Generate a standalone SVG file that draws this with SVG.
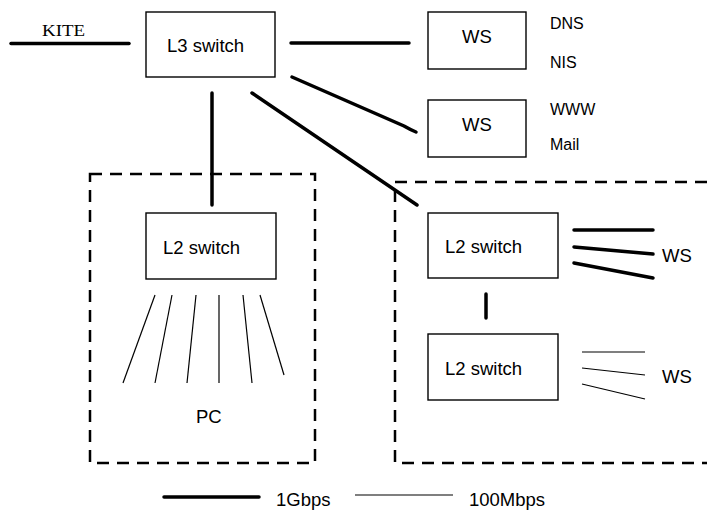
<svg xmlns="http://www.w3.org/2000/svg" width="707" height="510" viewBox="0 0 707 510">
<style>
.box{fill:#fff;stroke:#000;stroke-width:1.4}
.t{font-family:"Liberation Sans",Arial,sans-serif;font-size:18.5px;fill:#000}
.s{font-family:"Liberation Sans",Arial,sans-serif;font-size:16px;fill:#000}
.thick{stroke:#000;stroke-width:3.5;fill:none;stroke-linecap:round}
.thin{stroke:#000;stroke-width:1.2;fill:none}
.dash{stroke:#000;stroke-width:2.5;fill:none;stroke-dasharray:12 8}
</style>
<rect width="707" height="510" fill="#fff"/>
<g id="groups">
<rect class="dash" x="90" y="174" width="225" height="289"/>
<path class="dash" d="M707,182 H395 V463 H707"/>
</g>
<g id="connectors">
<line class="thick" x1="11" y1="43.5" x2="129" y2="43.5"/>
<line class="thick" x1="291" y1="43" x2="409" y2="43"/>
<path class="thick" d="M292,77 L404,126 Q411,130 416,132"/>
<line class="thick" x1="252" y1="93" x2="417" y2="205"/>
<line class="thick" x1="212" y1="93" x2="212" y2="205"/>
<line class="thick" x1="486" y1="294" x2="486" y2="318"/>
<line class="thick" x1="574" y1="230" x2="653" y2="230"/>
<line class="thick" x1="574" y1="247" x2="653" y2="254"/>
<line class="thick" x1="574" y1="263" x2="653" y2="278"/>
<line class="thin" x1="582" y1="352" x2="645" y2="352"/>
<line class="thin" x1="582" y1="368" x2="645" y2="375"/>
<line class="thin" x1="582" y1="384" x2="645" y2="399"/>
<line class="thin" x1="155" y1="295" x2="123" y2="383"/>
<line class="thin" x1="172" y1="295" x2="155" y2="383"/>
<line class="thin" x1="196" y1="295" x2="187" y2="383"/>
<line class="thin" x1="219" y1="295" x2="219" y2="383"/>
<line class="thin" x1="243" y1="295" x2="252" y2="383"/>
<line class="thin" x1="260" y1="295" x2="284" y2="375"/>
</g>
<g id="kite">
<text x="42" y="36" font-family="'Liberation Serif','Times New Roman',serif" font-size="16" textLength="43" lengthAdjust="spacingAndGlyphs">KITE</text>
</g>
<g id="l3switch">
<rect class="box" x="146" y="12" width="129" height="65"/>
<text class="t" x="167" y="52">L3 switch</text>
</g>
<g id="ws1">
<rect class="box" x="428" y="12" width="98" height="57"/>
<text class="t" x="477" y="43" text-anchor="middle">WS</text>
<text class="s" x="550" y="29">DNS</text>
<text class="s" x="550" y="68">NIS</text>
</g>
<g id="ws2">
<rect class="box" x="428" y="100" width="98" height="57"/>
<text class="t" x="477" y="131" text-anchor="middle">WS</text>
<text class="s" x="550" y="115">WWW</text>
<text class="s" x="550" y="150">Mail</text>
</g>
<g id="l2left">
<rect class="box" x="146" y="213" width="130" height="66"/>
<text class="t" x="163" y="254">L2 switch</text>
</g>
<g id="pc">
<text class="t" x="196" y="423">PC</text>
</g>
<g id="l2right1">
<rect class="box" x="428" y="213" width="130" height="65"/>
<text class="t" x="445" y="253">L2 switch</text>
</g>
<g id="ws3">
<text class="t" x="662" y="262">WS</text>
</g>
<g id="l2right2">
<rect class="box" x="428" y="334" width="130" height="66"/>
<text class="t" x="445" y="375">L2 switch</text>
</g>
<g id="ws4">
<text class="t" x="662" y="383">WS</text>
</g>
<g id="legend">
<line class="thick" x1="164" y1="497" x2="259" y2="497" stroke-linecap="butt"/>
<text class="t" x="276" y="506">1Gbps</text>
<line class="thin" x1="355" y1="495" x2="453" y2="495"/>
<text class="t" x="469" y="506">100Mbps</text>
</g>
</svg>
